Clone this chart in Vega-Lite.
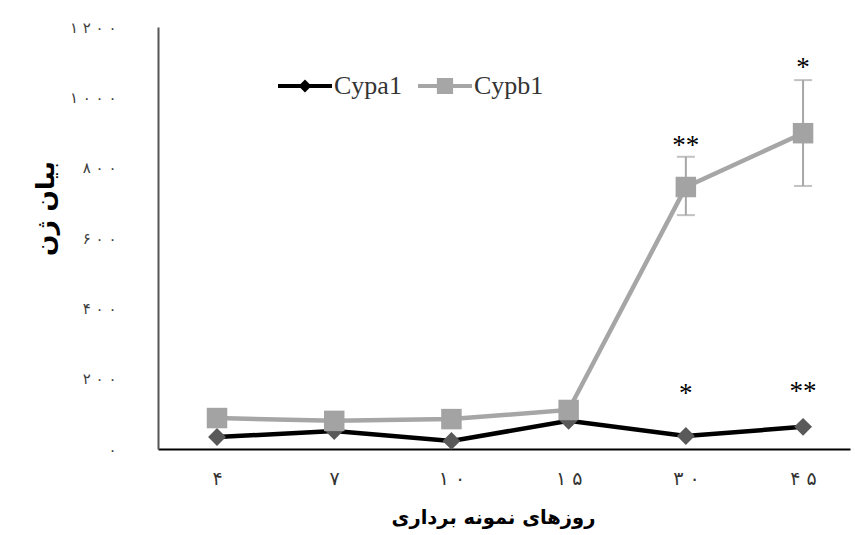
{
  "$schema": "https://vega.github.io/schema/vega-lite/v6.json",
  "width": 692,
  "height": 422,
  "autosize": "none",
  "padding": {"left": 158, "top": 27, "right": 5, "bottom": 86},
  "background": "white",
  "config": {"view": {"stroke": null}, "axis": {"grid": false}},
  "datasets": {
    "main": [
      {"day": "۴", "series": "Cypa1", "value": 34},
      {"day": "۷", "series": "Cypa1", "value": 51},
      {"day": "۱۰", "series": "Cypa1", "value": 23},
      {"day": "۱۵", "series": "Cypa1", "value": 80},
      {"day": "۳۰", "series": "Cypa1", "value": 37},
      {"day": "۴۵", "series": "Cypa1", "value": 63},
      {"day": "۴", "series": "Cypb1", "value": 88},
      {"day": "۷", "series": "Cypb1", "value": 80},
      {"day": "۱۰", "series": "Cypb1", "value": 85},
      {"day": "۱۵", "series": "Cypb1", "value": 111},
      {"day": "۳۰", "series": "Cypb1", "value": 745, "lo": 665, "hi": 831},
      {"day": "۴۵", "series": "Cypb1", "value": 898, "lo": 748, "hi": 1049}
    ],
    "notes": [
      {"day": "۳۰", "label": "**", "pos": 862},
      {"day": "۴۵", "label": "*", "pos": 1082},
      {"day": "۳۰", "label": "*", "pos": 157},
      {"day": "۴۵", "label": "**", "pos": 162}
    ],
    "legendrows": [
      {"series": "Cypa1", "value": null},
      {"series": "Cypb1", "value": null}
    ]
  },
  "encoding": {
    "x": {
      "field": "day",
      "type": "ordinal",
      "scale": {"type": "point", "domain": ["۴", "۷", "۱۰", "۱۵", "۳۰", "۴۵"], "padding": 0.452, "align": 0.557},
      "axis": {
        "title": "روزهای نمونه برداری",
        "labelExpr": "join(split(datum.label, ''), ' ')",
        "labelAngle": 0,
        "ticks": false,
        "tickSize": 0,
        "domainColor": "#000000",
        "domainWidth": 2,
        "labelFont": "DejaVu Sans",
        "labelFontSize": 19,
        "labelColor": "#333333",
        "labelPadding": 20,
        "titleFont": "DejaVu Sans",
        "titleFontSize": 19.5,
        "titleFontWeight": "bold",
        "titleColor": "#000000",
        "titlePadding": 20,
        "titleX": 335,
        "titleAlign": "center"
      }
    }
  },
  "layer": [
    {
      "data": {"name": "main"},
      "transform": [{"filter": "datum.hi != null"}],
      "mark": {"type": "rule", "color": "#a6a6a6", "strokeWidth": 2},
      "encoding": {
        "y": {
          "field": "lo",
          "type": "quantitative",
          "scale": {"domain": [0, 1200]},
          "axis": {
            "values": [0, 200, 400, 600, 800, 1000, 1200],
            "labelExpr": "datum.value == 0 ? '۰' : datum.value == 200 ? '۲ ۰ ۰' : datum.value == 400 ? '۴ ۰ ۰' : datum.value == 600 ? '۶ ۰ ۰' : datum.value == 800 ? '۸ ۰ ۰' : datum.value == 1000 ? '۱ ۰ ۰ ۰' : '۱ ۲ ۰ ۰'",
            "ticks": false,
            "tickSize": 0,
            "domainColor": "#555555",
            "domainWidth": 2,
            "labelFont": "DejaVu Sans",
            "labelFontSize": 15,
            "labelColor": "#404040",
            "labelPadding": 42,
            "title": "بیان ژن",
            "titleFont": "DejaVu Sans",
            "titleFontSize": 25,
            "titleFontWeight": "bold",
            "titleColor": "#000000",
            "titleX": -113,
            "titleY": 181,
            "titleAngle": -90,
            "titleAlign": "center",
            "titleBaseline": "middle"
          }
        },
        "y2": {"field": "hi"}
      }
    },
    {
      "data": {"name": "main"},
      "transform": [{"filter": "datum.hi != null"}],
      "mark": {"type": "tick", "color": "#a6a6a6", "thickness": 2, "size": 18, "orient": "horizontal"},
      "encoding": {"y": {"field": "hi", "type": "quantitative"}}
    },
    {
      "data": {"name": "main"},
      "transform": [{"filter": "datum.hi != null"}],
      "mark": {"type": "tick", "color": "#a6a6a6", "thickness": 2, "size": 18, "orient": "horizontal"},
      "encoding": {"y": {"field": "lo", "type": "quantitative"}}
    },
    {
      "data": {"name": "main"},
      "transform": [{"filter": "datum.series == 'Cypa1'"}],
      "mark": {"type": "line", "color": "#000000", "strokeWidth": 4.5},
      "encoding": {"y": {"field": "value", "type": "quantitative"}}
    },
    {
      "data": {"name": "main"},
      "transform": [{"filter": "datum.series == 'Cypa1'"}],
      "mark": {"type": "point", "shape": "diamond", "filled": true, "color": "#595959", "size": 320, "opacity": 1},
      "encoding": {"y": {"field": "value", "type": "quantitative"}}
    },
    {
      "data": {"name": "main"},
      "transform": [{"filter": "datum.series == 'Cypb1'"}],
      "mark": {"type": "line", "color": "#a6a6a6", "strokeWidth": 4.5},
      "encoding": {"y": {"field": "value", "type": "quantitative"}}
    },
    {
      "data": {"name": "main"},
      "transform": [{"filter": "datum.series == 'Cypb1'"}],
      "mark": {"type": "point", "shape": "square", "filled": true, "color": "#a3a3a3", "size": 420, "opacity": 1},
      "encoding": {"y": {"field": "value", "type": "quantitative"}}
    },
    {
      "data": {"name": "notes"},
      "mark": {"type": "text", "font": "Liberation Serif", "fontSize": 27, "color": "#000000", "baseline": "middle"},
      "encoding": {
        "y": {"field": "pos", "type": "quantitative"},
        "text": {"field": "label"}
      }
    },
    {
      "data": {"name": "legendrows"},
      "mark": {"type": "point", "filled": true, "opacity": 1},
      "encoding": {
        "x": {"value": 0},
        "y": {"field": "value", "type": "quantitative"},
        "color": {
          "field": "series",
          "type": "nominal",
          "scale": {"domain": ["Cypa1", "Cypb1"], "range": ["#000000", "#a6a6a6"]},
          "legend": {
            "title": null,
            "orient": "none",
            "legendX": 120,
            "legendY": 32,
            "direction": "horizontal",
            "symbolSize": 2916,
            "symbolStrokeWidth": 0,
            "symbolOpacity": 1,
            "labelFont": "Liberation Serif",
            "labelFontSize": 26,
            "labelColor": "#333333",
            "labelOffset": 2,
            "columnPadding": 16,
            "padding": 0
          }
        },
        "shape": {
          "field": "series",
          "type": "nominal",
          "scale": {
            "domain": ["Cypa1", "Cypb1"],
            "range": [
              "M-1,-0.075H1V0.075H-1Z M-0.24,0L0,-0.24L0.24,0L0,0.24Z",
              "M-1,-0.075H1V0.075H-1Z M-0.3,-0.3H0.3V0.3H-0.3Z"
            ]
          }
        }
      }
    }
  ]
}
